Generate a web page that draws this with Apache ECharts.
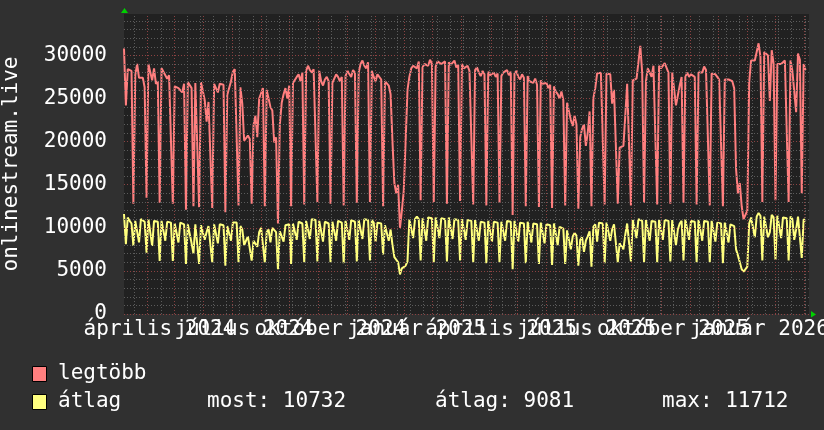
<!DOCTYPE html>
<html><head><meta charset="utf-8">
<script src="https://cdn.jsdelivr.net/npm/echarts@6/dist/echarts.min.js"></script>
<style>html,body{margin:0;padding:0;background:#303030;}#c{width:824px;height:430px;}</style>
</head><body><div id="c"></div>
<script>
// ---- data (2-day samples starting at sampleStart) ----
const sampleStart = '2024-01-07T05:00:00Z';
const sampleStepDays = 2;
const maxValues = [
30800,24200,28400,28400,28200,12800,27700,
29000,27400,27200,27400,26300,13500,29000,
29000,27100,28500,26700,27000,12900,28500,
28500,27700,27300,27700,27500,12800,26400,
26400,26200,26100,25700,26700,12100,26900,
26900,26200,12500,26800,26800,12400,26900,
26900,24800,22300,24600,24600,12300,26700,
26700,25700,26700,26700,26600,11800,25400,
25400,27000,28100,28400,28400,12600,26300,
24400,20100,20100,20700,20300,12800,21900,
23000,20500,25000,25000,26200,12500,26000,
25000,24000,23600,19900,20500,10500,22000,
24500,25500,26200,25000,26500,12500,26800,
27000,27500,27800,27000,28000,12700,28200,
28800,28300,28000,28400,28500,13000,28200,
27000,26500,27200,27500,27000,12800,26800,
27300,27800,27500,27000,27500,12600,27600,
28200,28000,27500,28300,28000,12900,28000,
29000,29400,28800,28500,29200,13000,28200,
27500,27000,27800,28000,27200,12500,27000,
27000,26500,25500,20000,15200,14000,15000,
10000,12000,14300,20000,26000,27500,28500,
28800,29000,28500,29300,13200,28600,29000,
29200,28800,29500,29000,13000,28700,29300,
29500,29000,28800,29300,12800,29200,28900,
29000,29400,28600,28900,13100,29000,28500,
28500,28800,28200,28400,12700,28300,28600,
28000,27600,28200,27800,12600,28100,27700,
27800,28000,27500,27900,12900,27600,28000,
28000,28300,27700,28100,11500,27900,28200,
27500,27200,27800,27400,12500,27600,27000,
27000,26800,27300,26600,12400,27100,26700,
26500,26800,26200,26600,12300,26400,25800,
25500,25000,25800,24800,12600,24500,23500,
22500,21800,23000,22000,12200,20500,21500,
22000,19500,21000,23500,12500,25000,26200,
27900,27900,28000,27800,12700,27900,27900,
27800,24400,26000,26000,12800,19300,19300,
19500,23000,26700,26700,12600,27100,27100,
27300,27500,31100,28000,12900,27000,28500,
28000,27500,28800,28800,12700,28800,28500,
28500,29100,29100,28000,12800,28000,28000,
24200,24200,26500,27500,12900,27500,28000,
27500,27800,28000,27500,12700,28000,27800,
28000,28700,28300,28200,12600,27900,27900,
27800,27500,27200,27000,12500,27200,27200,
27200,27200,27000,26200,16800,14000,15200,
12500,11000,11500,12000,26900,29400,29400,
29400,29600,31400,29800,13000,30400,30400,
30000,24700,30600,29000,13200,29000,29000,
29000,29200,29400,29400,13000,29400,28200,
28200,23400,30200,29500,14000,29000,28300
];
const avgValues = [
11600,8100,11200,10800,10500,7900,10800,
10800,8300,11000,10900,10700,7100,11000,
11000,7900,10800,10900,10700,6150,10800,
10900,8500,10700,10800,10600,6150,10500,
10500,8300,10600,10500,10400,5800,10400,
10500,8200,7000,10400,10300,5800,10300,
10400,8600,9500,10200,10300,6000,10400,
10500,8200,10400,10500,10300,5600,10200,
10400,8500,10600,10800,10600,6000,10200,
9800,8000,8500,9000,8800,6200,8500,
8500,7800,9500,10000,10200,6000,9500,
9800,8300,10000,9800,9500,5200,9600,
9800,8400,10300,10100,10400,5800,10500,
10600,8600,10700,10900,10500,6000,10800,
10900,8700,11000,10800,10900,6100,10800,
10600,8400,10700,10800,10500,6000,10700,
10700,8500,10800,10900,10600,5900,10800,
10800,8600,10900,11000,10700,6100,10900,
11000,8700,11000,11100,10900,6200,10900,
10600,8400,10600,10800,10500,6900,10300,
10200,8500,9800,8000,6600,6600,6000,
4600,5300,5300,5600,6100,11000,11000,
8800,11000,11300,11000,6200,11100,11200,
8500,11200,11400,11100,6000,11200,11000,
8800,11100,11300,11000,6100,11200,11100,
8700,11000,11200,10900,6200,11000,10900,
8600,10900,11100,10800,6000,10900,10800,
8500,10700,10900,10600,5900,10800,10600,
8400,10700,10800,10600,6000,10700,10500,
8500,10800,10900,10700,5200,10800,10700,
8400,10600,10800,10500,5900,10700,10500,
8300,10500,10700,10400,5800,10600,10400,
8200,10400,10600,10300,5700,10500,10300,
8000,10100,10300,9900,5800,9700,9500,
7500,9000,9400,9100,5600,8600,8900,
7200,8500,9000,9600,5500,10100,10400,
8400,10600,10800,10500,5900,10600,10700,
8500,9800,10400,10500,6000,8200,8000,
7500,9200,10500,10600,6100,10900,10800,
8800,11000,11100,10800,6000,10900,10900,
8500,10800,11000,10700,6000,10900,10700,
8600,10900,11000,10800,6100,10900,10800,
8000,9800,10500,10800,6200,11000,10900,
8600,10800,11000,10700,6000,10900,10700,
8500,10800,10900,10700,6000,10800,10600,
8400,10600,10800,10500,5900,10600,10400,
8300,10400,10600,10200,7500,6800,6000,
5200,4900,5000,5500,10500,11200,11400,
8900,11300,11712,11400,6200,11300,11500,
8900,9500,11500,11200,6300,11400,11500,
8800,11200,11400,11100,6200,11300,11000,
8600,9800,11300,11200,6500,11000,10732
];
const seriesNames = ['legtöbb', 'átlag'];
const seriesColors = ['#ff7f7f', '#ffff7f'];
const statTexts = ['most: 10732', 'átlag: 9081', 'max: 11712'];
const yTitle = 'onlinestream.live';
const yTickValues = [0, 5000, 10000, 15000, 20000, 25000, 30000];
const xLabelTexts = ['április 2024','július 2024','október 2024','január 2025','április 2025','július 2025','október 2025','január 2026'];
const xLabelDates = ['2024-02-14','2024-05-14','2024-08-14','2024-11-14','2025-02-12','2025-05-14','2025-08-14','2025-11-14'];
const monthStarts = ['2024-02-01','2024-03-01','2024-04-01','2024-05-01','2024-06-01','2024-07-01','2024-08-01','2024-09-01','2024-10-01','2024-11-01','2024-12-01','2025-01-01','2025-02-01','2025-03-01','2025-04-01','2025-05-01','2025-06-01','2025-07-01','2025-08-01','2025-09-01','2025-10-01','2025-11-01','2025-12-01','2026-01-01'];
const axisStart = '2024-01-07T05:00:00Z';
const axisEnd = '2026-01-05T22:00:00Z';
const minorGridStart = '2024-01-18T12:00:00Z';
const yMax = 34800;

// ---- build ----
const DAY = 86400000;
const t0 = Date.parse(sampleStart);
const xMin = Date.parse(axisStart), xMax = Date.parse(axisEnd);
const maxData = maxValues.map((v, i) => [t0 + i * sampleStepDays * DAY, v]);
const avgData = avgValues.map((v, i) => [t0 + i * sampleStepDays * DAY, v]);
const minorX = [];
for (let t = Date.parse(minorGridStart); t < xMax; t += 14 * DAY) minorX.push(t);
const minorY = [];
for (let v = 1000; v < yMax; v += 1000) if (v % 5000) minorY.push(v);

const FONT = 'DejaVu Sans Mono';
const minorStyle = { color: '#5c5c5c', width: 1, type: [1, 2] };
const majorStyle = { color: '#8c4242', width: 1, type: [1, 2] };
function ml(data, style) {
  return { type: 'line', data: [], silent: true, z: 1, animation: false,
    markLine: { silent: true, symbol: 'none', animation: false, label: { show: false },
      lineStyle: style, emphasis: { disabled: true }, data: data } };
}

const chart = echarts.init(document.getElementById('c'), null, { renderer: 'canvas' });
chart.setOption({
  backgroundColor: '#303030',
  animation: false,
  grid: { left: 124, top: 14, width: 685, height: 300, show: true, backgroundColor: '#212121', borderWidth: 0,
    containLabel: false, outerBoundsMode: 'none' },
  xAxis: { type: 'time', min: xMin, max: xMax, axisLine: { show: false }, axisTick: { show: false },
    axisLabel: { show: false }, splitLine: { show: false } },
  yAxis: { type: 'value', min: 0, max: yMax, interval: 5000,
    name: yTitle, nameLocation: 'middle', nameRotate: 90, nameGap: 102,
    nameTextStyle: { color: '#ffffff', fontFamily: FONT, fontSize: 21 },
    axisLine: { show: false }, axisTick: { show: false }, splitLine: { show: false },
    axisLabel: { color: '#ffffff', fontFamily: FONT, fontSize: 21, margin: 17,
      formatter: v => (yTickValues.indexOf(v) >= 0 ? String(v) : '') } },
  series: [
    ml(minorX.map(t => ({ xAxis: t })), minorStyle),
    ml(minorY.map(v => ({ yAxis: v })), minorStyle),
    ml(monthStarts.map(d => ({ xAxis: Date.parse(d + 'T00:00:00Z') })), majorStyle),
    ml(yTickValues.map(v => ({ yAxis: v })), majorStyle),
    { name: seriesNames[0], type: 'line', data: maxData, color: seriesColors[0], symbol: 'none', z: 3,
      lineStyle: { width: 2, color: seriesColors[0] } },
    { name: seriesNames[1], type: 'line', data: avgData, color: seriesColors[1], symbol: 'none', z: 4,
      lineStyle: { width: 2, color: seriesColors[1] } }
  ]
});

// x labels, legend and arrows placed through the chart's own coordinate conversion
const g = [];
const fontStr = '21px "' + FONT + '"';
xLabelDates.forEach((d, i) => {
  const x = chart.convertToPixel({ xAxisIndex: 0 }, Date.parse(d + 'T00:00:00Z'));
  g.push({ type: 'text', x: x, y: 330, silent: true,
    style: { text: xLabelTexts[i], fill: '#ffffff', font: fontStr, textAlign: 'center', textVerticalAlign: 'middle' } });
});
const legendY = [374, 402];
seriesNames.forEach((n, i) => {
  g.push({ type: 'rect', silent: true, shape: { x: 32.5, y: legendY[i] - 7.5, width: 14, height: 15 },
    style: { fill: seriesColors[i], stroke: '#000000', lineWidth: 1 } });
  g.push({ type: 'text', x: 58, y: legendY[i], silent: true,
    style: { text: n, fill: '#ffffff', font: fontStr, textAlign: 'left', textVerticalAlign: 'middle' } });
});
const statX = [207, 435, 662];
statTexts.forEach((s, i) => g.push({ type: 'text', x: statX[i], y: legendY[1], silent: true,
  style: { text: s, fill: '#ffffff', font: fontStr, textAlign: 'left', textVerticalAlign: 'middle' } }));
const gx0 = chart.convertToPixel({ xAxisIndex: 0 }, xMin);
const gx1 = chart.convertToPixel({ xAxisIndex: 0 }, xMax);
const gy0 = chart.convertToPixel({ yAxisIndex: 0 }, 0);
const gy1 = chart.convertToPixel({ yAxisIndex: 0 }, yMax);
g.push({ type: 'polygon', silent: true, shape: { points: [[gx0 - 3, gy1 - 1], [gx0 + 4, gy1 - 1], [gx0 + 0.5, gy1 - 6]] }, style: { fill: '#00d000' } });
g.push({ type: 'polygon', silent: true, shape: { points: [[gx1 + 2, gy0 - 3], [gx1 + 2, gy0 + 3.5], [gx1 + 7, gy0 + 0.5]] }, style: { fill: '#00d000' } });
chart.setOption({ graphic: g });
</script>
</body></html>
